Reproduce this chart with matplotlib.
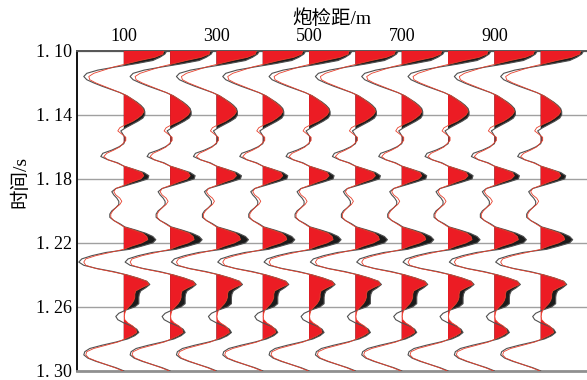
import numpy as np
import matplotlib.pyplot as plt

# trace offsets (m) and sample times (s)
offsets = [100, 200, 300, 400, 500, 600, 700, 800, 900, 1000]
t0, dt, nsamp = 1.10, 0.002, 101

# amplitude of the two wavelets, one sample every 2 ms from 1.10 s to 1.30 s
black_amp = [
    43, 41, 36, 29, 12, -8, -26, -37, -40, -37,
    -30, -22, -13, -4, 3, 8, 13, 17, 20, 21,
    21, 19, 14, 8, 2, -3, -1, 1, 1, 0,
    -5, -12, -21, -23, -16, -6, 0, 10, 20, 25,
    24, 14, 3, -8, -12, -10, -7, -5, -5, -8,
    -12, -14, -14, -10, -4, 1, 12, 22, 29, 32,
    29, 18, 6, -18, -32, -42, -45, -40, -27, -10,
    3, 14, 23, 26, 22, 17, 15.5, 15, 15, 15,
    11, 2, -5, -8, -6, 0, 8, 13, 15, 11,
    4, -8, -22, -34, -39, -40, -36, -28, -18, -8,
    0,
]
red_amp = [
    40, 39, 31, 16, 3, -10, -20, -30, -35, -34,
    -28, -20, -12, -4, 3, 8, 12, 16, 19, 20,
    18, 14, 9, 2, -4, -6, -2, 2, 2, -1,
    -4, -10, -17, -20, -16, -7, 0, 10, 18, 20,
    17, 8, 0, -8, -10, -8, -4, -2, -4, -8,
    -11, -13, -13, -10, -5, 0, 10, 19, 23, 24,
    18, 8, 0, -14, -28, -38, -40, -38, -28, -12,
    3, 14, 23, 25, 18, 12, 11, 11, 10, 8,
    5, 2, 1, 0.5, 1, 4, 9, 12, 13, 8,
    1, -6, -18, -30, -37, -38, -35, -27, -18, -9,
    -1,
]

x_ticks = [100, 300, 500, 700, 900]
y_ticks = [1.10, 1.14, 1.18, 1.22, 1.26, 1.30]
y_ticklabels = ["1. 10", "1. 14", "1. 18", "1. 22", "1. 26", "1. 30"]

t = t0 + dt * np.arange(nsamp)
black = np.array(black_amp, dtype=float)
red = np.array(red_amp, dtype=float)
scale = 100 / 46.3  # amplitude units -> metres of offset

serif = ["Liberation Serif", "Noto Sans CJK SC"]

fig = plt.figure(figsize=(5.87, 3.80), dpi=100)
ax = fig.add_axes([0.132, 0.024, 0.868, 0.842])

for x0 in offsets:
    xb = x0 + black * scale
    xr = x0 + red * scale
    ax.fill_betweenx(t, x0, xb, where=black > 0, interpolate=True,
                     color="#1c1c1c", lw=0, zorder=2)
    ax.fill_betweenx(t, x0, xr, where=red > 0, interpolate=True,
                     color="#ec1c24", lw=0, zorder=3)
    ax.plot(xb, t, color="#505050", lw=0.8, zorder=4)
    ax.plot(xr, t, color="#e8402c", lw=0.6, zorder=5)

ax.set_xlim(0, 1100)
ax.set_ylim(1.30, 1.10)

ax.xaxis.tick_top()
ax.xaxis.set_label_position("top")
ax.set_xticks(x_ticks)
ax.set_xticklabels([str(v) for v in x_ticks], family=serif, fontsize=13)
ax.set_yticks(y_ticks)
ax.set_yticklabels(y_ticklabels, family=serif, fontsize=13)
ax.tick_params(axis="both", length=0)
ax.tick_params(axis="x", pad=4)
ax.tick_params(axis="y", pad=4)

ax.grid(axis="y", color="#a0a0a0", lw=1.0)
ax.set_axisbelow(True)

ax.set_xlabel("炮检距/m", family=serif, fontsize=14, labelpad=3)
ax.set_ylabel("时间/s", family=serif, fontsize=14)
ax.yaxis.set_label_coords(-0.095, 0.59)

ax.spines["right"].set_visible(False)
ax.spines["left"].set_color("#111111")
ax.spines["left"].set_linewidth(1.4)
ax.spines["top"].set_color("#555555")
ax.spines["top"].set_linewidth(1.4)
ax.spines["bottom"].set_color("#909090")
ax.spines["bottom"].set_linewidth(2.0)

fig.savefig("out.png", dpi=100)
